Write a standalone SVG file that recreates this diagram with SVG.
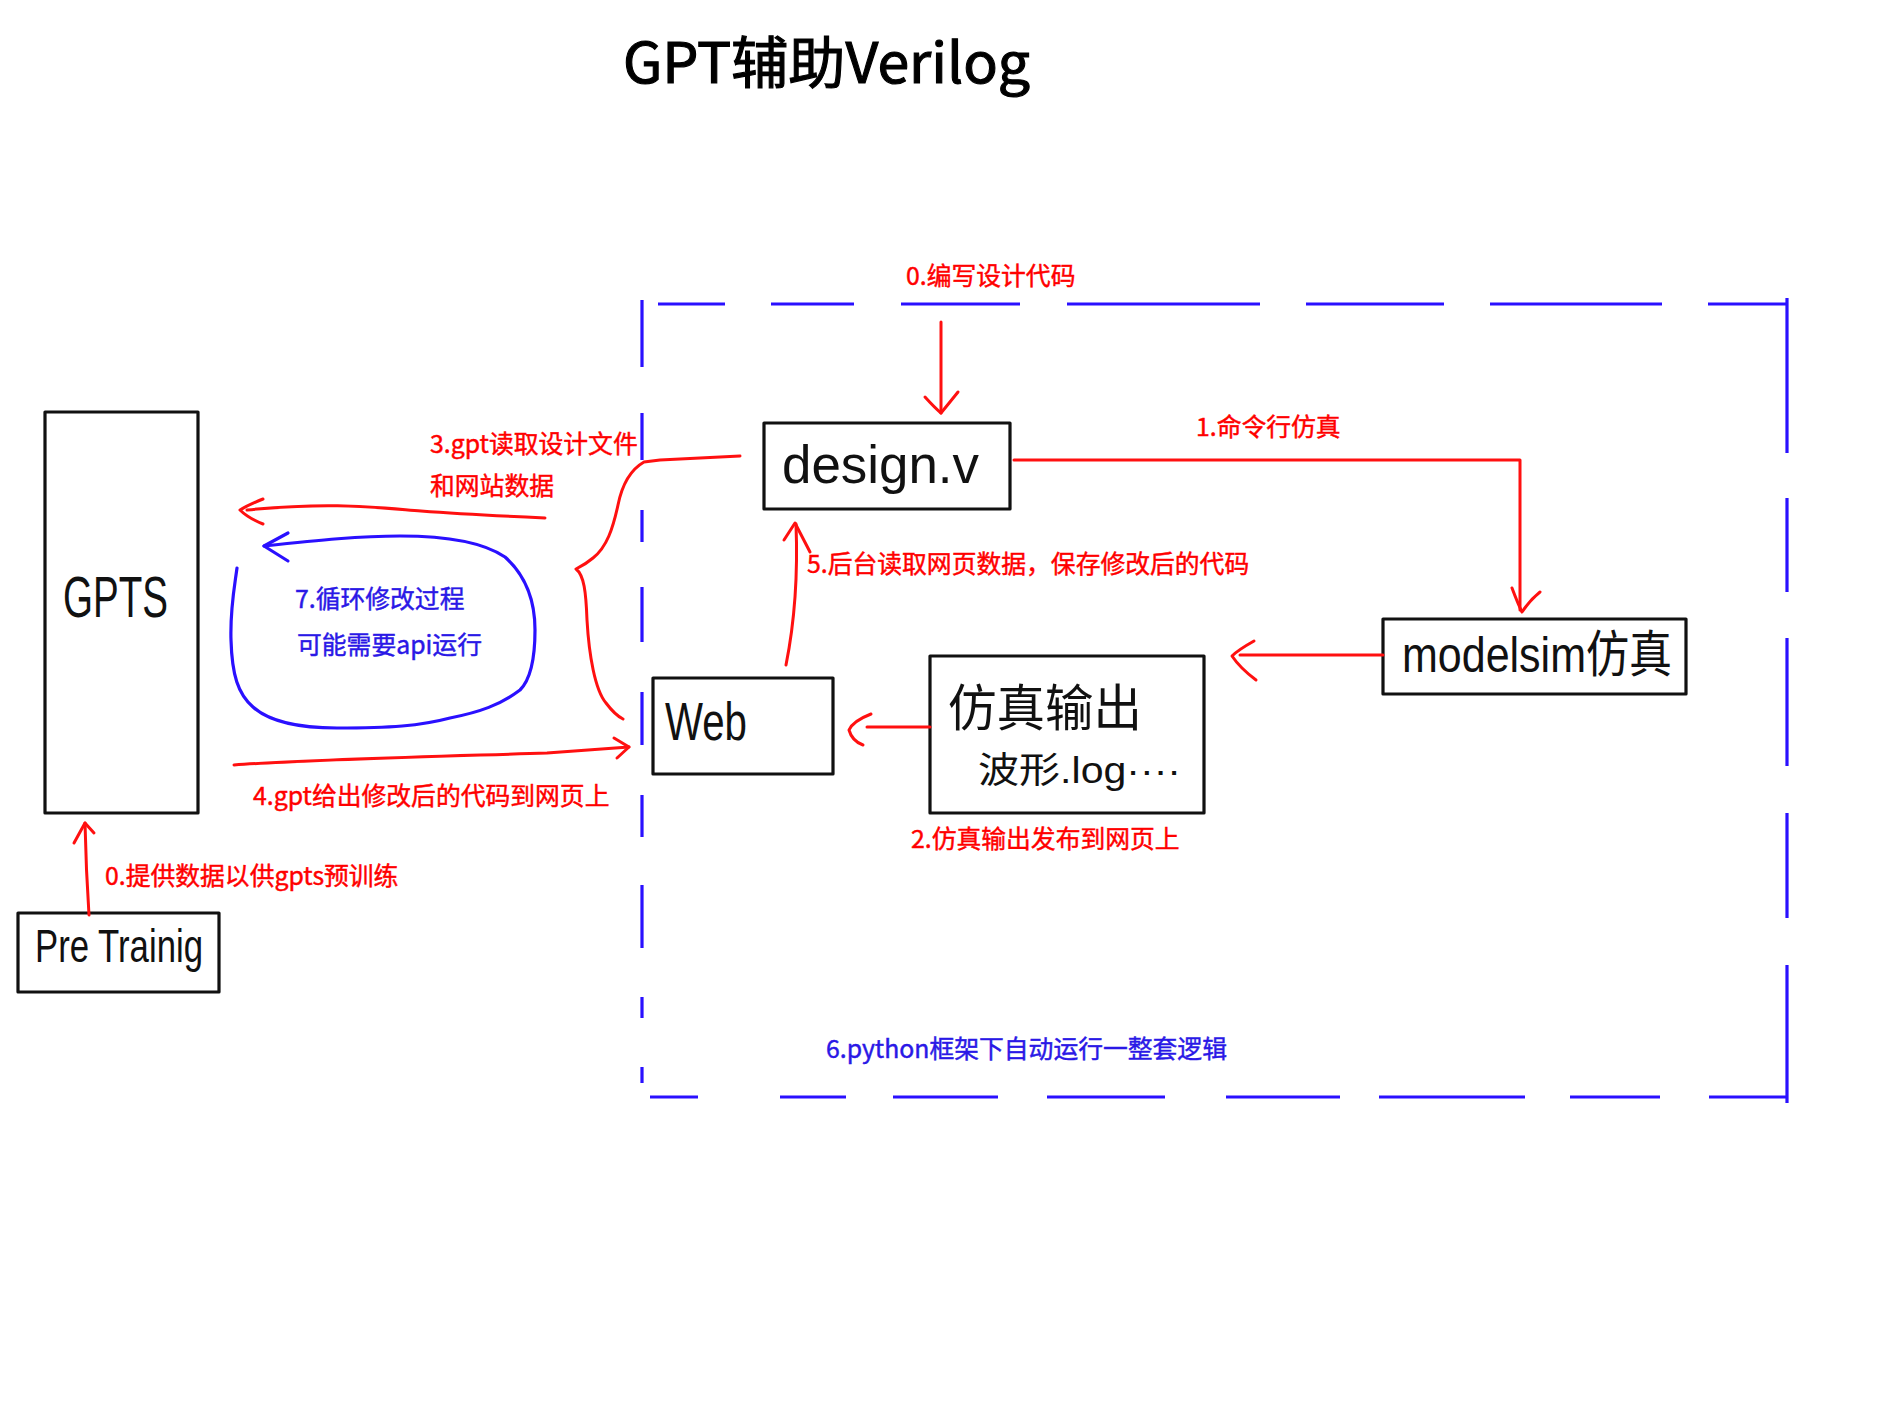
<svg xmlns="http://www.w3.org/2000/svg" width="1890" height="1417" viewBox="0 0 1890 1417">
<style>
  .lbl { font-family: "Noto Sans CJK SC", "Noto Sans", sans-serif; font-size: 24.8px; stroke-width: 0.45px; }
  .red { fill: #ff0000; stroke: #ff0000; }
  .blu { fill: #2a18e6; stroke: #2a18e6; }
  .hand { font-family: "Liberation Sans", "Noto Sans CJK SC", sans-serif; fill: #111; }
  .box { fill: none; stroke: #111; stroke-width: 3.2; stroke-linejoin: round; }
  .rl { fill: none; stroke: #ff1010; stroke-width: 3; stroke-linecap: round; stroke-linejoin: round; }
  .bl { fill: none; stroke: #2a10ff; stroke-width: 3.2; stroke-linecap: round; stroke-linejoin: round; }
  .dash { fill: none; stroke: #2a10ff; stroke-width: 3.2; }
</style>
<rect width="1890" height="1417" fill="#ffffff"/>

<text x="623" y="83" font-family="Noto Sans CJK SC, Noto Sans, sans-serif" font-size="56" fill="#000" stroke="#000" stroke-width="1.1" textLength="407" lengthAdjust="spacingAndGlyphs">GPT辅助Verilog</text>

<g id="python-frame">
  <path class="dash" d="M658,304H725M771,304H854M901,304H1020M1067,304H1260M1306,304H1444M1490,304H1662M1708,304H1788"/>
  <path class="dash" d="M1787,298V453M1787,498V592M1787,638V766M1787,813V918M1787,965V1103"/>
  <path class="dash" d="M650,1097H698M780,1097H846M893,1097H998M1047,1097H1165M1226,1097H1340M1379,1097H1525M1570,1097H1660M1709,1097H1787"/>
  <path class="dash" d="M642,300V367M642,413V460M642,510V542M642,587V642M642,692V745M642,795V837M642,885V948M642,997V1018M642,1067V1083"/>
  <text class="lbl blu" x="826" y="1058">6.python框架下自动运行一整套逻辑</text>
</g>

<g id="node-gpts">
  <rect class="box" x="45" y="412" width="153" height="401"/>
  <text class="hand" x="63" y="617" font-size="58" textLength="105" lengthAdjust="spacingAndGlyphs">GPTS</text>
</g>

<g id="node-pretraining">
  <rect class="box" x="18" y="913" width="201" height="79"/>
  <text class="hand" x="35" y="962" font-size="46" textLength="168" lengthAdjust="spacingAndGlyphs">Pre Trainig</text>
</g>

<g id="node-design">
  <rect class="box" x="764" y="423" width="246" height="86"/>
  <text class="hand" x="782" y="483" font-size="54" textLength="197" lengthAdjust="spacingAndGlyphs">design.v</text>
</g>

<g id="node-modelsim">
  <rect class="box" x="1383" y="619" width="303" height="75"/>
  <text class="hand" x="1402" y="672" font-size="50" textLength="270" lengthAdjust="spacingAndGlyphs">modelsim仿真</text>
</g>

<g id="node-web">
  <rect class="box" x="653" y="678" width="180" height="96"/>
  <text class="hand" x="665" y="740" font-size="54" textLength="82" lengthAdjust="spacingAndGlyphs">Web</text>
</g>

<g id="node-simout">
  <rect class="box" x="930" y="656" width="274" height="157"/>
  <text class="hand" x="948" y="726" font-size="50" textLength="194" lengthAdjust="spacingAndGlyphs">仿真输出</text>
  <text class="hand" x="978" y="783" font-size="36" textLength="203" lengthAdjust="spacingAndGlyphs">波形.log····</text>
</g>

<g id="connectors">
  <path class="rl" d="M941,322V413"/>
  <path class="rl" d="M925,397Q935,408 941,413Q950,402 958,392"/>
  <text class="lbl red" x="906" y="285">0.编写设计代码</text>

  <path class="rl" d="M1014,460H1520V610"/>
  <path class="rl" d="M1512,588Q1518,604 1522,612Q1530,600 1540,592"/>
  <text class="lbl red" x="1196" y="436">1.命令行仿真</text>

  <path class="rl" d="M1383,655H1240"/>
  <path class="rl" d="M1254,641Q1238,650 1232,656Q1240,668 1256,680"/>

  <path class="rl" d="M930,727H867"/>
  <path class="rl" d="M871,714Q853,721 849,730Q852,741 863,745"/>
  <text class="lbl red" x="911" y="848">2.仿真输出发布到网页上</text>

  <path class="rl" d="M740,456L700,458L660,460L644,462C630,470 622,485 618,505C613,528 607,547 593,558C586,564 580,567 576,569C584,575 586,592 587,620C589,655 595,690 606,703C612,711 617,716 623,719"/>
  <path class="rl" d="M545,518C500,516 460,514 421,511C370,507 330,502 247,510"/>
  <path class="rl" d="M263,499Q248,505 240,510Q248,518 263,524"/>
  <text class="lbl red" x="430" y="453">3.gpt读取设计文件</text>
  <text class="lbl red" x="430" y="495">和网站数据</text>

  <path class="rl" d="M234,765C300,760 420,757 547,753L629,747"/>
  <path class="rl" d="M614,738L629,747L617,758"/>
  <text class="lbl red" x="253" y="805">4.gpt给出修改后的代码到网页上</text>

  <path class="rl" d="M786,665Q799,600 796,524"/>
  <path class="rl" d="M784,540L795,523L810,552"/>
  <text class="lbl red" x="807" y="573">5.后台读取网页数据，保存修改后的代码</text>

  <path class="rl" d="M89,915Q86,870 85,823"/>
  <path class="rl" d="M74,843L85,823L94,833"/>
  <text class="lbl red" x="105" y="885">0.提供数据以供gpts预训练</text>

  <path class="bl" d="M264,546C320,540 360,536 400,536C440,536 480,540 505,557C525,575 535,600 535,630C535,660 530,680 520,690C500,705 480,712 450,718C420,726 390,728 337,728C300,728 270,722 253,707C238,694 232,675 231,640C230,610 234,590 237,568"/>
  <path class="bl" d="M288,533L264,546L288,561"/>
  <text class="lbl blu" x="295" y="608">7.循环修改过程</text>
  <text class="lbl blu" x="297" y="654">可能需要api运行</text>
</g>
</svg>
